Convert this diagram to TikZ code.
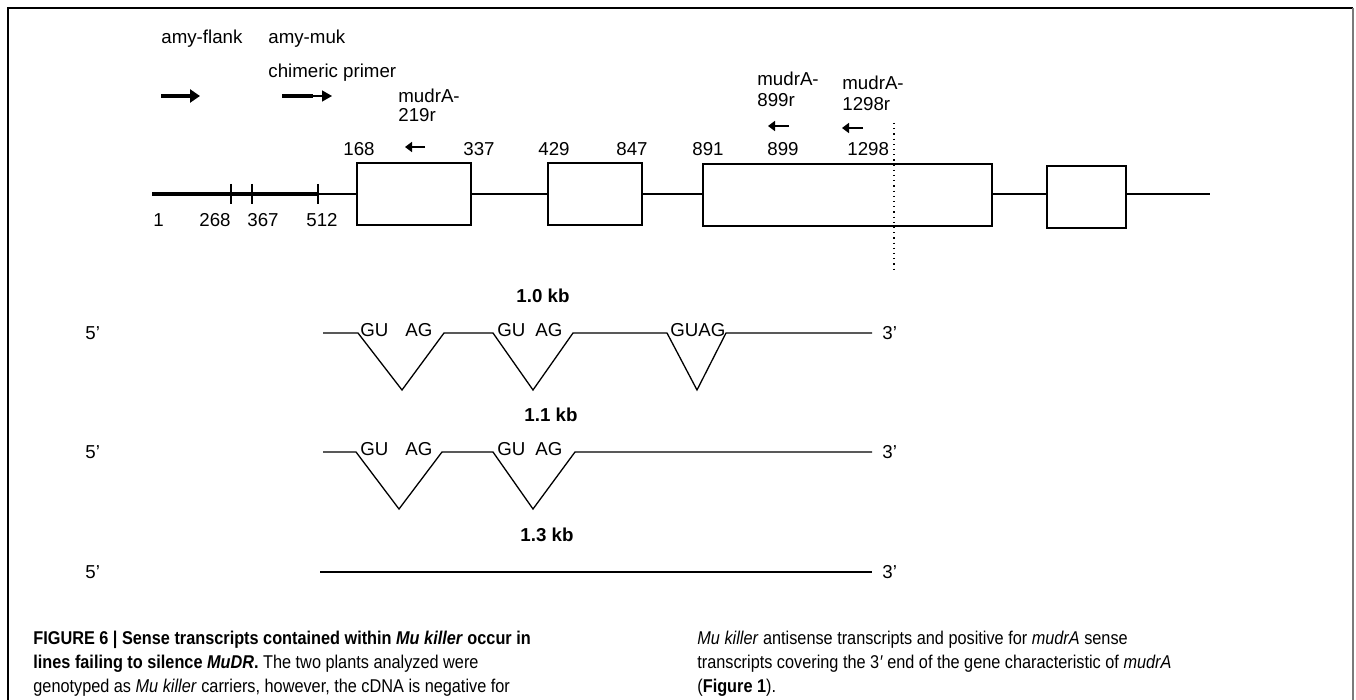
\documentclass[tikz,border=0pt]{standalone}
\usepackage{fontspec}
\setmainfont{Liberation Sans}
\newfontfamily\capfont{Liberation Sans}[FakeStretch=0.88]
\usepackage{tikz}
\usetikzlibrary{arrows.meta,positioning}
\definecolor{marcogris}{HTML}{7A7A7A}
\tikzset{
  etiqueta/.style={font=\fontsize{9.35}{11.2}\selectfont,inner sep=0pt,anchor=base west},
  titulo/.style={font=\fontsize{9.35}{11.2}\selectfont\bfseries,inner sep=0pt,anchor=base},
  extremo/.style={font=\fontsize{9.35}{11.2}\selectfont,inner sep=0pt,anchor=west},
  exon/.style={draw,line width=0.75pt,minimum height=31pt,inner sep=0pt},
  intron/.style={line width=0.7pt},
  flanco/.style={line width=2pt},
  marca/.style={line width=0.6pt},
  cebador/.style={line width=2pt,-{Triangle[length=5pt,width=6.5pt]}},
  cebadorfino/.style={line width=0.75pt,-{Triangle[length=5pt,width=5.5pt]}},
  reverso/.style={line width=1pt,-{Triangle[length=3.5pt,width=5pt]}},
  transcrito/.style={line width=0.65pt},
  leyenda/.style={font=\capfont\fontsize{9.25}{12}\selectfont,inner sep=0pt,anchor=base west},
}
\begin{document}
\begin{tikzpicture}[x=0.5pt,y=-0.5pt]
  \useasboundingbox (0,0) rectangle (1356,700);
  \draw[line width=0.75pt] (8,700) -- (8,8) -- (1353,8);
  \draw[line width=1pt,marcogris] (1353,8) -- (1353,700);

  \node[etiqueta] (flank) at (161,44) {amy-flank};
  \node[etiqueta] (muk) at (268,44) {amy-muk};
  \node[etiqueta] (quim) at (268,78) {chimeric primer};
  \draw[cebador] (161,96) -- (200,96);
  \draw[flanco] (282,96) coordinate (q0) -- (313,96) coordinate (q1);
  \draw[cebadorfino] (q1) -- (332,96);

  \node[etiqueta] (r219a) at (398,103) {mudrA-};
  \node[etiqueta] (r219b) at (398,122) {219r};
  \node[etiqueta] (r899a) at (757,86) {mudrA-};
  \node[etiqueta] (r899b) at (757,107) {899r};
  \node[etiqueta] (r1298a) at (842,90) {mudrA-};
  \node[etiqueta] (r1298b) at (842,111) {1298r};
  \draw[reverso] (425,147) -- (405,147);
  \draw[reverso] (789,126) -- (768,126);
  \draw[reverso] (863,128) -- (842,128);

  \node[etiqueta] (p168) at (343,156) {168};
  \node[etiqueta] (p337) at (463,156) {337};
  \node[etiqueta] (p429) at (538,156) {429};
  \node[etiqueta] (p847) at (616,156) {847};
  \node[etiqueta] (p891) at (692,156) {891};
  \node[etiqueta] (p899) at (767,156) {899};
  \node[etiqueta] (p1298) at (847,156) {1298};

  \node[exon,minimum width=57pt] (ex1) at (414,194) {};
  \node[exon,minimum width=47pt] (ex2) at (595,194) {};
  \node[exon,minimum width=144.5pt] (ex3) at (847.5,195) {};
  \node[exon,minimum width=39.5pt] (ex4) at (1086.5,197) {};
  \coordinate (g1) at (152,194);
  \coordinate (g512) at (318,194);
  \coordinate (gfin) at (1210,194);
  \draw[flanco] (g1) -- (g512);
  \foreach \xt in {231,252,318} \draw[marca] (\xt,184) -- (\xt,204);
  \draw[intron] (g512) -- (ex1.west);
  \draw[intron] (ex1.east) -- (ex2.west);
  \draw[intron] (ex2.east) -- (ex2.east -| ex3.west);
  \draw[intron] (ex3.east |- gfin) -- (ex4.west |- gfin);
  \draw[intron] (ex4.east |- gfin) -- (gfin);
  \draw[dotted,line width=0.6pt] (894,123) -- (894,270);

  \node[etiqueta] (b1) at (153,227) {1};
  \node[etiqueta] (b268) at (199,227) {268};
  \node[etiqueta] (b367) at (247,227) {367};
  \node[etiqueta] (b512) at (306,227) {512};

  \node[titulo] (kb10) at (543,303) {1.0 kb};
  \node[extremo] (c5a) at (85,333) {5’};
  \node[extremo] (c3a) at (882,333) {3’};
  \draw[transcrito] (323,333) -- (358,333) -- (402,390) -- (444,333) -- (493,333)
    -- (533,390) -- (573,333) -- (667,333) -- (697,390) -- (726,333) -- (872,333);
  \node[etiqueta] (gu1) at (360,337) {GU};
  \node[etiqueta] (ag1) at (405,337) {AG};
  \node[etiqueta] (gu2) at (497,337) {GU};
  \node[etiqueta] (ag2) at (535,337) {AG};
  \node[etiqueta] (guag) at (670,337) {GUAG};

  \node[titulo] (kb11) at (551,422) {1.1 kb};
  \node[extremo] (c5b) at (85,452) {5’};
  \node[extremo] (c3b) at (882,452) {3’};
  \draw[transcrito] (323,452) -- (356,452) -- (399,509) -- (442,452) -- (493,452)
    -- (533,509) -- (575,452) -- (872,452);
  \node[etiqueta] (gu3) at (360,456) {GU};
  \node[etiqueta] (ag3) at (405,456) {AG};
  \node[etiqueta] (gu4) at (497,456) {GU};
  \node[etiqueta] (ag4) at (535,456) {AG};

  \node[titulo] (kb13) at (547,541) {1.3 kb};
  \node[extremo] (c5c) at (85,572) {5’};
  \node[extremo] (c3c) at (882,572) {3’};
  \draw[transcrito] (320,572) -- (872,572);

  \node[leyenda] (ley1) at (33,644) {\bfseries FIGURE 6 | Sense transcripts contained within \textit{Mu killer} occur in};
  \node[leyenda] (ley2) at (33,668) {\textbf{lines failing to silence \textit{MuDR}.} The two plants analyzed were};
  \node[leyenda] (ley3) at (33,692) {genotyped as \textit{Mu killer} carriers, however, the cDNA is negative for};
  \node[leyenda] (ley4) at (697,644) {\textit{Mu killer} antisense transcripts and positive for \textit{mudrA} sense};
  \node[leyenda] (ley5) at (697,668) {transcripts covering the 3\textit{′} end of the gene characteristic of \textit{mudrA}};
  \node[leyenda] (ley6) at (697,692) {(\textbf{Figure 1}).};
\end{tikzpicture}
\end{document}
